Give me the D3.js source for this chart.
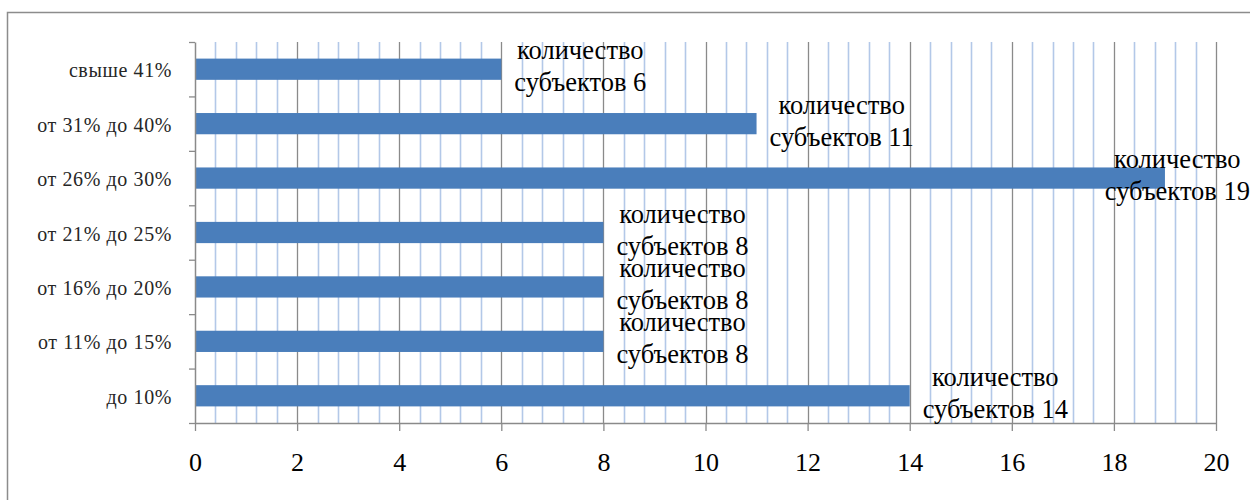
<!DOCTYPE html>
<html>
<head>
<meta charset="utf-8">
<script src="https://cdn.jsdelivr.net/npm/d3@7/dist/d3.min.js"></script>
<style>
  html, body { margin: 0; padding: 0; background: #fff; }
  svg { display: block; }
  text { font-family: "Liberation Serif", "Times New Roman", serif; }
</style>
</head>
<body>
<svg id="chart" width="1250" height="500"></svg>
<script>
// Ranges of share, listed from the top bar to the bottom bar
const categories = ["свыше 41%", "от 31% до 40%", "от 26% до 30%", "от 21% до 25%", "от 16% до 20%", "от 11% до 15%", "до 10%"];
// Number of subjects in each range
const counts = [6, 11, 19, 8, 8, 8, 14];
const labelPrefix = "количество";
const labelWord = "субъектов";
const xTickValues = [0, 2, 4, 6, 8, 10, 12, 14, 16, 18, 20];

const W = 1250, H = 500;
const plot = { left: 195, right: 1216, top: 42, bottom: 423 };
const serif = "'Liberation Serif', 'Times New Roman', serif";

const svg = d3.select("#chart");

// chart frame
svg.append("path")
  .attr("d", `M7.5,${H} V12.5 H${W}`)
  .attr("fill", "none")
  .attr("stroke", "#8c8c8c")
  .attr("stroke-width", 1.5);

const x = d3.scaleLinear().domain([0, 20]).range([plot.left, plot.right]);
const y = d3.scaleBand().domain(categories).range([plot.top, plot.bottom])
  .paddingInner(0.61).paddingOuter(0.305);
const yEdges = d3.scaleLinear().domain([0, categories.length]).range([plot.bottom, plot.top]);

// minor gridlines every 0.4
const minor = d3.range(0, 20.0001, 0.4).filter(v => Math.abs(v / 2 - Math.round(v / 2)) > 1e-6);
svg.append("g").selectAll("line").data(minor).join("line")
  .attr("x1", d => Math.round(x(d)) + 0.5).attr("x2", d => Math.round(x(d)) + 0.5)
  .attr("y1", plot.top).attr("y2", plot.bottom)
  .attr("stroke", "#b3c8e8").attr("stroke-width", 1.6);

// major gridlines every 2
svg.append("g").selectAll("line").data(xTickValues.slice(1)).join("line")
  .attr("x1", d => Math.round(x(d)) + 0.5).attr("x2", d => Math.round(x(d)) + 0.5)
  .attr("y1", plot.top).attr("y2", plot.bottom)
  .attr("stroke", "#8a8a8a").attr("stroke-width", 1.3);

// bars
svg.append("g").selectAll("rect").data(categories).join("rect")
  .attr("x", x(0))
  .attr("y", d => y(d))
  .attr("width", (d, i) => x(counts[i]) - x(0))
  .attr("height", y.bandwidth())
  .attr("fill", "#4a7ebb");

// x axis
const xAxis = svg.append("g")
  .attr("transform", `translate(0,${plot.bottom})`)
  .call(d3.axisBottom(x).tickValues(xTickValues).tickSize(8).tickSizeOuter(0).tickPadding(22));
xAxis.select(".domain").attr("stroke", "#8a8a8a").attr("stroke-width", 1.5);
xAxis.selectAll(".tick line").attr("stroke", "#8a8a8a").attr("stroke-width", 1.3);
xAxis.selectAll(".tick text")
  .style("font-family", serif)
  .style("font-size", "26px")
  .attr("fill", "#000");

// y axis with ticks between categories
const yAxis = svg.append("g")
  .attr("transform", `translate(${plot.left},0)`)
  .call(d3.axisLeft(yEdges).tickValues(d3.range(0, categories.length + 1)).tickSize(6).tickSizeOuter(0).tickFormat(""));
yAxis.select(".domain").attr("stroke", "#8a8a8a").attr("stroke-width", 1.5);
yAxis.selectAll(".tick line").attr("stroke", "#8a8a8a").attr("stroke-width", 1.3);

// category labels
svg.append("g").selectAll("text").data(categories).join("text")
  .attr("x", 172)
  .attr("y", d => y(d) + y.bandwidth() / 2 + 8)
  .attr("text-anchor", "end")
  .style("font-family", serif)
  .style("font-size", "20px")
  .style("letter-spacing", "0.6px")
  .attr("fill", "#262626")
  .text(d => d);

// value labels, two lines, placed past the end of each bar
const labels = svg.append("g").selectAll("text").data(categories).join("text")
  .style("font-family", serif)
  .style("font-size", "26.5px")
  .attr("fill", "#000")
  .attr("text-anchor", "middle");

labels.each(function (d, i) {
  const t = d3.select(this);
  const cy = y(d) + y.bandwidth() / 2;
  const l1 = t.append("tspan").attr("y", cy - 10).text(labelPrefix);
  const l2 = t.append("tspan").attr("y", cy + 22).text(`${labelWord} ${counts[i]}`);
  const w = Math.max(l1.node().getComputedTextLength(), l2.node().getComputedTextLength());
  let cx = x(counts[i]) + 13 + w / 2;
  cx = Math.min(cx, W - w / 2);
  l1.attr("x", cx);
  l2.attr("x", cx);
});
</script>
</body>
</html>
